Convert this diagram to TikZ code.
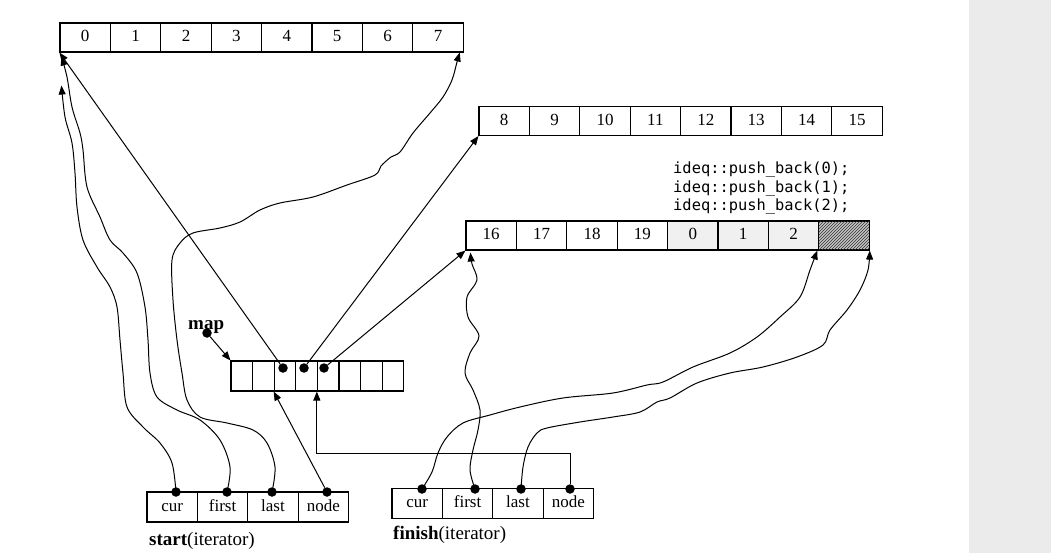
\documentclass[tikz,border=0pt]{standalone}
\usepackage{fontspec}
\setmainfont{Liberation Serif}
\newfontfamily\codefont{DejaVu Sans Mono}
\usetikzlibrary{arrows.meta,patterns,calc}
\begin{document}
\begin{tikzpicture}[x=1pt,y=-1pt,
  cellbox/.style={draw, line width=1.1pt, minimum width=50.4pt, minimum height=29pt, inner sep=0pt,
    text height=11.5pt, text depth=3pt, font=\fontsize{17}{20}\selectfont},
  mapcell/.style={draw, line width=1.1pt, minimum width=21.6pt, minimum height=30pt, inner sep=0pt},
  itbox/.style={draw, line width=1.1pt, minimum width=50.4pt, minimum height=30pt, inner sep=0pt,
    text height=11.5pt, text depth=3pt, font=\fontsize{17}{20}\selectfont},
  dotnode/.style={circle, fill=black, inner sep=0pt, minimum size=9.5pt},
  arr/.style={-{Triangle[length=9pt,width=7pt]}, line width=1pt},
  lbl/.style={font=\fontsize{19}{22}\selectfont, anchor=base west, inner sep=0pt},
  code/.style={font=\codefont\fontsize{15.4}{18}\selectfont, anchor=base west, inner sep=0pt}
]
\useasboundingbox (0,0) rectangle (1051,553);
\fill[black!8] (969,0) rectangle (1051,553);

% block 0..7
\foreach \t [count=\k from 0] in {0,...,7}
  \node[cellbox] (a\k) at ({85.2+50.4*\k},37.5) {\t};
% block 8..15
\foreach \t [count=\k from 0] in {8,...,15}
  \node[cellbox] (b\k) at ({504.2+50.4*\k},121) {\t};
% block 16..
\foreach \t/\f [count=\k from 0] in {16/white,17/white,18/white,19/white,0/gray!12,1/gray!12,2/gray!12,{}/gray!45}
  \node[cellbox, fill=\f] (c\k) at ({491.2+50.4*\k},235.5) {\t};
\fill[pattern=north east lines, pattern color=black!80] (c7.south west) rectangle (c7.north east);
\draw[line width=1.1pt] (c7.south west) rectangle (c7.north east);

% code lines
\node[code] (push0) at (673,174) {ideq::push\_back(0);};
\node[code] (push1) at (673,192.5) {ideq::push\_back(1);};
\node[code] (push2) at (673,211) {ideq::push\_back(2);};

% map
\foreach \k in {0,...,7}
  \node[mapcell] (m\k) at ({241.8+21.6*\k},376) {};
\node[lbl, font=\fontsize{19}{22}\selectfont\bfseries] (maplbl) at (188,329) {map};
\node[dotnode] (mapdot) at (207,333) {};
\node[dotnode] (md2) at (283,368) {};
\node[dotnode] (md3) at (304,368) {};
\node[dotnode] (md4) at (324,368) {};

% start iterator
\foreach \t [count=\k from 0] in {cur,first,last,node}
  \node[itbox] (s\k) at ({172.2+50.4*\k},507) {\t};
\node[lbl] (startlbl) at (149,545) {\textbf{start}(iterator)};
\node[dotnode] (sd0) at (176,492) {};
\node[dotnode] (sd1) at (227,492) {};
\node[dotnode] (sd2) at (272,492) {};
\node[dotnode] (sd3) at (327,492) {};

% finish iterator
\foreach \t [count=\k from 0] in {cur,first,last,node}
  \node[itbox] (f\k) at ({417.2+50.4*\k},503.5) {\t};
\node[lbl] (finishlbl) at (393,539) {\textbf{finish}(iterator)};
\node[dotnode] (fd0) at (422,489) {};
\node[dotnode] (fd1) at (475,489) {};
\node[dotnode] (fd2) at (521,489) {};
\node[dotnode] (fd3) at (570,489) {};

% named ends
\coordinate (a0cur) at ($(a0.south west)+(2,33)$);
\coordinate (a0first) at ($(a0.south west)+(2,4)$);
\coordinate (a7end) at ($(a7.south east)+(-4,0)$);
\coordinate (c0first) at ($(c0.south west)+(5,2)$);
\coordinate (c6end) at ($(c6.south east)+(-2,0)$);
\coordinate (fbend) at (570,453);

% map connectors
\draw[arr] (mapdot) -- (m0.north west);
\draw[arr] (md2) -- (a0.south west);
\draw[arr] (md3) -- (b0.south west);
\draw[arr] (md4) -- (c0.south west);

% start connectors
\draw[arr] (sd3) -- (m2.south west);
\draw[arr] plot[smooth, tension=0.55] coordinates {(sd0) (172,463) (160,443) (143,427) (127,407) (123,373) (120,340) (117,307) (110,287) (97,267) (83,240) (77,207) (75,173) (72,143) (65,117) (a0cur)};
\draw[arr] plot[smooth, tension=0.55] coordinates {(sd1) (230,467) (220,440) (200,420) (177,410) (157,397) (150,373) (148,340) (145,307) (137,273) (123,253) (110,240) (100,217) (87,187) (83,150) (80,133) (72,107) (67,77) (a0first)};
\draw[arr] plot[smooth, tension=0.55] coordinates {(sd2) (275,467) (267,443) (253,430) (227,423) (200,417) (187,400) (182,373) (177,340) (173,300) (172,260) (180,243) (193,233) (220,228) (240,222) (260,210) (280,203) (313,197) (347,185) (375,175) (381,166) (391,157) (400,152) (413,133) (430,113) (443,97) (452,80) (457,62) (a7end)};

% finish connectors
\draw[arr] (fd3) -- (fbend) -| (m4.south west);
\draw[arr] plot[smooth, tension=0.55] coordinates {(fd0) (432,472) (438,453) (447,437) (463,423) (490,415) (520,407) (563,398) (613,393) (647,385) (663,382) (693,367) (730,353) (757,337) (780,317) (800,297) (810,270) (c6end)};
\draw[arr] plot[smooth, tension=0.55] coordinates {(fd1) (470,470) (473,450) (478,430) (480,410) (473,390) (465,373) (470,353) (479,336) (468,317) (467,297) (477,280) (472,264) (c0first)};
\draw[arr] plot[smooth, tension=0.55] coordinates {(fd2) (523,467) (528,447) (537,433) (547,428) (580,422) (613,417) (640,412) (657,402) (670,398) (697,383) (730,373) (763,367) (797,357) (823,345) (830,330) (847,310) (860,290) (868,270) (c7.south east)};
\end{tikzpicture}
\end{document}
